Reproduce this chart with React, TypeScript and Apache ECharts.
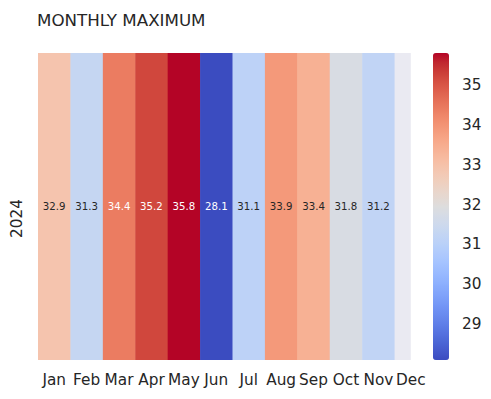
import React, { useEffect, useRef } from "react";
import * as echarts from "echarts";

const title = "MONTHLY MAXIMUM";
const years = ["2024"];
const months = ["Jan", "Feb", "Mar", "Apr", "May", "Jun", "Jul", "Aug", "Sep", "Oct", "Nov", "Dec"];
const maxTemps: (number | null)[] = [32.9, 31.3, 34.4, 35.2, 35.8, 28.1, 31.1, 33.9, 33.4, 31.8, 31.2, null];
const colorbarTicks = [29, 30, 31, 32, 33, 34, 35];

// matplotlib "coolwarm" (Moreland) stops
const coolwarm = [
  "#3b4cc0", "#445acc", "#4d68d7", "#5775e1", "#6282ea", "#6c8ef1", "#779af7", "#82a5fb",
  "#8db0fe", "#98b9ff", "#a3c2ff", "#aec9fd", "#b8d0f9", "#c2d5f4", "#ccd9ee", "#d5dbe6",
  "#dddddd", "#e5d8d1", "#ecd3c5", "#f1ccb9", "#f5c4ad", "#f7bba0", "#f7b194", "#f7a687",
  "#f49a7b", "#f18d6f", "#ec7f63", "#e57058", "#de604d", "#d55042", "#cb3e38", "#c0282f",
  "#b40426",
];

const FONT = "DejaVu Sans";
const DARK = "#262626";

function lin(c: number) {
  const s = c / 255;
  return s <= 0.03928 ? s / 12.92 : Math.pow((s + 0.055) / 1.055, 2.4);
}

export default function App() {
  const ref = useRef<HTMLDivElement>(null);
  useEffect(() => {
    if (!ref.current) return;
    const chart = echarts.init(ref.current, null, { renderer: "svg" });
    const vals = maxTemps.filter((v) => v !== null) as number[];
    const vmin = Math.min(...vals);
    const vmax = Math.max(...vals);
    const data = months.map((m, i) => [i, 0, maxTemps[i] === null ? "-" : maxTemps[i]]);

    chart.setOption({
      animation: false,
      backgroundColor: "#ffffff",
      textStyle: { fontFamily: FONT },
      title: {
        text: title,
        left: 32,
        top: 6,
        textStyle: { fontFamily: FONT, fontSize: 16.7, fontWeight: "normal", color: DARK },
      },
      grid: [
        { left: 38, top: 53, width: 389, height: 307 },
        { left: 433, top: 53, width: 16, height: 307 },
      ],
      xAxis: [
        {
          type: "category",
          gridIndex: 0,
          data: months,
          axisLine: { show: false },
          axisTick: { show: false },
          splitLine: { show: false },
          axisLabel: { fontFamily: FONT, fontSize: 15.3, color: DARK, margin: 12, interval: 0 },
        },
        { type: "value", gridIndex: 1, show: false, min: 0, max: 1 },
      ],
      yAxis: [
        {
          type: "category",
          gridIndex: 0,
          data: years,
          axisLine: { show: false },
          axisTick: { show: false },
          splitLine: { show: false },
          axisLabel: { fontFamily: FONT, fontSize: 15.3, color: DARK, rotate: 90, margin: 14, padding: [0, 24, 0, 0] },
        },
        {
          type: "value",
          gridIndex: 1,
          position: "right",
          min: vmin,
          max: vmax,
          axisLine: { show: false },
          splitLine: { show: false },
          axisTick: { show: true, length: 8, lineStyle: { color: DARK, width: 1.2 }, customValues: colorbarTicks },
          axisLabel: { fontFamily: FONT, fontSize: 15.3, color: DARK, margin: 13, customValues: colorbarTicks },
        },
      ],
      visualMap: {
        type: "continuous",
        min: vmin,
        max: vmax,
        dimension: 2,
        seriesIndex: 0,
        calculable: false,
        left: 433,
        top: 53,
        padding: 0,
        itemWidth: 16,
        itemHeight: 307,
        text: null,
        showLabel: false,
        inRange: { color: coolwarm },
      },
      series: [
        {
          type: "custom",
          xAxisIndex: 0,
          yAxisIndex: 0,
          data,
          renderItem: (params: any, api: any) => {
            const x = api.value(0);
            const y = api.value(1);
            const v = api.value(2);
            const c = api.coord([x, y]);
            const s = api.size([1, 1]);
            const w = s[0];
            const h = s[1];
            if (v === null || v === undefined || isNaN(v)) {
              return {
                type: "rect",
                shape: { x: c[0] - w / 2, y: c[1] - h / 2, width: w / 2, height: h },
                style: { fill: "#eaeaf2" },
              };
            }
            const col = api.visual("color");
            const rgb = echarts.color.parse(col) || [0, 0, 0, 1];
            const lum = 0.2126 * lin(rgb[0]) + 0.7152 * lin(rgb[1]) + 0.0722 * lin(rgb[2]);
            const tc = lum > 0.408 ? DARK : "#ffffff";
            return {
              type: "group",
              children: [
                {
                  type: "rect",
                  shape: { x: c[0] - w / 2, y: c[1] - h / 2, width: w + 0.5, height: h },
                  style: { fill: col },
                },
                {
                  type: "text",
                  x: c[0],
                  y: c[1],
                  style: {
                    text: Number(v).toFixed(1),
                    fill: tc,
                    fontFamily: FONT,
                    fontSize: 10.2,
                    align: "center",
                    verticalAlign: "middle",
                  },
                },
              ],
            };
          },
        },
      ],
    });
    return () => chart.dispose();
  }, []);
  return <div ref={ref} style={{ width: 491, height: 399, position: "absolute", left: 0, top: 0 }} />;
}
